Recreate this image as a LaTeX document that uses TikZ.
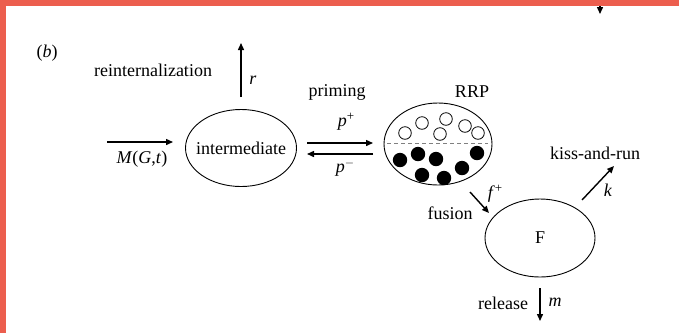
\documentclass[tikz,border=0pt]{standalone}
\usepackage{fontspec}
\setmainfont{Liberation Serif}
\usetikzlibrary{shapes.geometric,arrows.meta}

\definecolor{framered}{RGB}{236,94,78}

\newcommand{\supsign}[1]{\raisebox{0.75ex}{\fontsize{13}{13}\selectfont #1}}

\tikzset{
  pool/.style={draw=black, line width=0.9pt, ellipse, inner sep=0pt},
  flow/.style={line width=1.4pt, -{Triangle[length=7pt,width=6pt]}},
  lbl/.style={inner sep=0pt, font=\fontsize{18}{20}\selectfont},
  ves/.style={draw=black, line width=0.8pt, fill=white},
  vesfull/.style={fill=black},
}

\begin{document}
\begin{tikzpicture}[x=1pt, y=-1pt]
\useasboundingbox (0,0) rectangle (679,333);
\fill[white] (0,0) rectangle (679,333);

% stray arrow tip entering from above
\coordinate (topA) at (600,0);
\coordinate (topB) at (600,14);
\draw[flow] (topA) -- (topB);

% frame bands
\fill[framered] (0,0) rectangle (679,6);
\fill[framered] (0,0) rectangle (6,333);

% panel tag
\node[lbl] (tag) at (47,53) {(\textit{b})};

% pools
\node[pool, minimum width=111pt, minimum height=77pt] (inter) at (241,148) {};
\node[lbl] (intertxt) at (241,148) {intermediate};
\node[pool, minimum width=108pt, minimum height=82pt] (rrp) at (438,144) {};
\node[pool, minimum width=110pt, minimum height=78pt] (F) at (540,238) {};
\node[lbl] (Ftxt) at (540,238) {F};

% vesicle pool contents
\draw[dashed, dash pattern=on 4pt off 3pt, line width=0.7pt, gray]
  (387,143) -- (488,143);
\foreach \px/\py in {405/133, 422/123, 446/119, 440/134, 465/126, 478/133}
  \draw[ves] (\px,\py) circle (6.3pt);
\foreach \px/\py in {400/160, 418/154, 436/159, 422/175, 444/178, 462/168, 477/153}
  \fill[vesfull] (\px,\py) circle (7.2pt);

% input flux
\coordinate (inA) at (107,142);
\coordinate (inB) at (173,142);
\draw[flow] (inA) -- (inB);
\node[lbl] (Min) at (142,159) {\textit{M}(\textit{G},\textit{t})};

% reinternalization
\coordinate (rA) at (241,97);
\coordinate (rB) at (241,43);
\draw[flow] (rA) -- (rB);
\node[lbl] (reint) at (153,70) {reinternalization};
\node[lbl] (rlab) at (253,80) {\textit{r}};

% priming / unpriming
\coordinate (pA) at (307,143);
\coordinate (pB) at (373,143);
\coordinate (mA) at (373,154);
\coordinate (mB) at (307,154);
\draw[flow] (pA) -- (pB);
\draw[flow] (mA) -- (mB);
\node[lbl] (priming) at (337,92) {priming};
\node[lbl] (rrptxt) at (472,92) {RRP};
\node[lbl] (pplus) at (346,122) {\textit{p}\supsign{+}};
\node[lbl] (pminus) at (345,168) {\textit{p}\supsign{$-$}};

% fusion
\coordinate (fA) at (470,192);
\coordinate (fB) at (489,213);
\draw[flow] (fA) -- (fB);
\node[lbl] (fplus) at (495,194) {\textit{f}\supsign{+}};
\node[lbl] (fusion) at (450,213) {fusion};

% kiss-and-run
\coordinate (kA) at (582,200);
\coordinate (kB) at (614,166);
\draw[flow] (kA) -- (kB);
\node[lbl] (kiss) at (595,153) {kiss-and-run};
\node[lbl] (klab) at (608,190) {\textit{k}};

% release
\coordinate (relA) at (540,288);
\coordinate (relB) at (540,321);
\draw[flow] (relA) -- (relB);
\node[lbl] (release) at (503,303) {release};
\node[lbl] (mlab) at (555,302) {\textit{m}};
\end{tikzpicture}
\end{document}
